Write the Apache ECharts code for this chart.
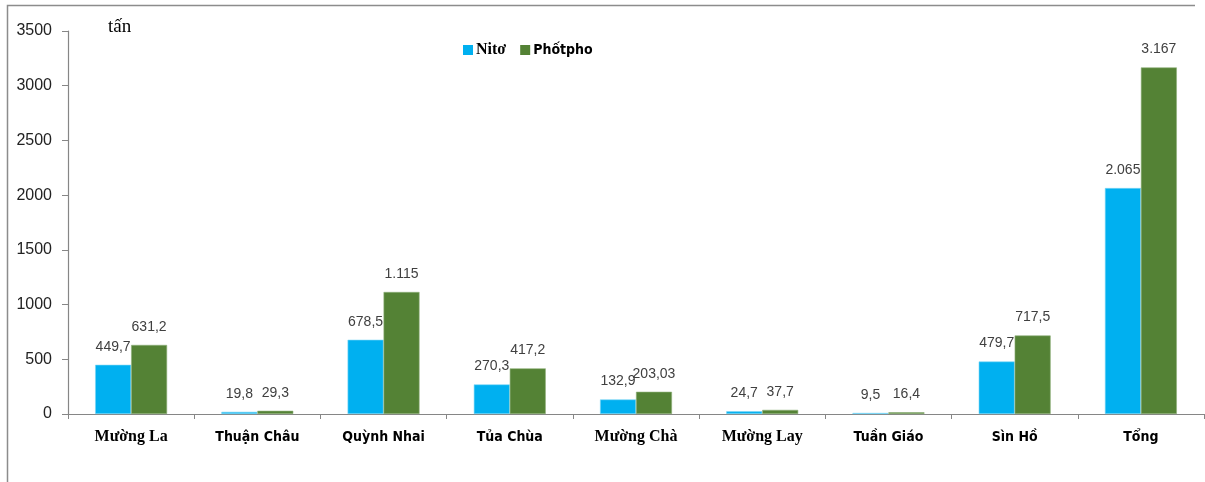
<!DOCTYPE html>
<html>
<head>
<meta charset="utf-8">
<script src="https://cdn.jsdelivr.net/npm/echarts@6/dist/echarts.min.js"></script>
<style>
  html, body { margin: 0; padding: 0; background: #fff; }
  #chart { width: 1205px; height: 482px; }
</style>
</head>
<body>
<div id="chart"></div>
<script>
// Districts along the x axis
var categories = ['Mường La', 'Thuận Châu', 'Quỳnh Nhai', 'Tủa Chùa', 'Mường Chà', 'Mường Lay', 'Tuần Giáo', 'Sìn Hồ', 'Tổng'];
// Nitrogen load (tấn)
var nitoValues = [449.7, 19.8, 678.5, 270.3, 132.9, 24.7, 9.5, 479.7, 2065];
// Phosphorus load (tấn)
var photphoValues = [631.2, 29.3, 1115, 417.2, 203.03, 37.7, 16.4, 717.5, 3167];
var seriesNames = ['Nitơ', 'Phốtpho'];
var unitLabel = 'tấn';

// Labels set in a serif face; the rest use a condensed sans
var serifLabels = ['Mường La', 'Mường Chà', 'Mường Lay', 'Nitơ'];

var SERIF = '"Liberation Serif", "DejaVu Serif", serif';
var SANS = '"Liberation Sans Narrow", "DejaVu Sans Condensed", "Liberation Sans", sans-serif';
var LABEL_SANS = '"Liberation Sans", "DejaVu Sans", sans-serif';

function valueText(v) {
  if (v >= 1000) {
    var s = Math.round(v).toString();
    return s.replace(/\B(?=(\d{3})+(?!\d))/g, '.');
  }
  return String(v).replace('.', ',');
}

function richName(name) {
  return serifLabels.indexOf(name) >= 0 ? '{s|' + name + '}' : '{n|' + name + '}';
}

var chart = echarts.init(document.getElementById('chart'));

var barLabel = {
  show: true,
  position: 'top',
  distance: 11,
  color: '#404040',
  fontFamily: LABEL_SANS,
  fontSize: 14,
  formatter: function (p) { return valueText(p.value); }
};

chart.setOption({
  animation: false,
  backgroundColor: '#fff',
  grid: { left: 68, right: 1, top: 31, bottom: 68, containLabel: false },
  legend: {
    data: seriesNames,
    left: 458,
    top: 37,
    itemWidth: 10,
    itemHeight: 10,
    itemGap: 14,
    icon: 'rect',
    itemStyle: { borderWidth: 0 },
    formatter: richName,
    textStyle: {
      padding: [0, 0, 0, -2],
      rich: {
        s: { fontFamily: SERIF, fontWeight: 'bold', fontSize: 16, color: '#000', height: 18 },
        n: { fontFamily: SANS, fontWeight: 'bold', fontSize: 14, color: '#000', height: 18 }
      }
    }
  },
  xAxis: {
    type: 'category',
    data: categories,
    boundaryGap: true,
    axisLine: { lineStyle: { color: '#868686', width: 1.2 } },
    axisTick: { show: true, length: 5, lineStyle: { color: '#868686' } },
    axisLabel: {
      margin: 13,
      interval: 0,
      formatter: richName,
      rich: {
        s: { fontFamily: SERIF, fontWeight: 'bold', fontSize: 16, color: '#000', height: 20 },
        n: { fontFamily: SANS, fontWeight: 'bold', fontSize: 14, color: '#000', height: 20 }
      }
    }
  },
  yAxis: {
    type: 'value',
    min: 0,
    max: 3500,
    interval: 500,
    axisLine: { show: true, lineStyle: { color: '#868686', width: 1.2 } },
    axisTick: { show: true, inside: false, length: 6, lineStyle: { color: '#868686' } },
    splitLine: { show: false },
    axisLabel: {
      margin: 16,
      color: '#222',
      fontFamily: LABEL_SANS,
      fontSize: 16,
      formatter: function (v) { return String(v); }
    }
  },
  series: [
    {
      name: seriesNames[0],
      type: 'bar',
      data: nitoValues,
      barGap: '0%',
      barCategoryGap: '43%',
      itemStyle: { color: '#00B0F0', borderColor: '#7fd6f5', borderWidth: 0.6 },
      label: barLabel
    },
    {
      name: seriesNames[1],
      type: 'bar',
      data: photphoValues,
      itemStyle: { color: '#548235', borderColor: '#8fb07a', borderWidth: 0.6 },
      label: barLabel
    }
  ],
  graphic: [
    {
      type: 'polyline',
      shape: { points: [[7.5, 482], [7.5, 5.5], [1195, 5.5]] },
      style: { stroke: '#8c8c8c', lineWidth: 1.5, fill: null },
      silent: true
    },
    {
      type: 'text',
      left: 108,
      top: 18,
      style: { text: unitLabel, font: '19px ' + SERIF, fill: '#000' },
      silent: true
    }
  ]
});
</script>
</body>
</html>
